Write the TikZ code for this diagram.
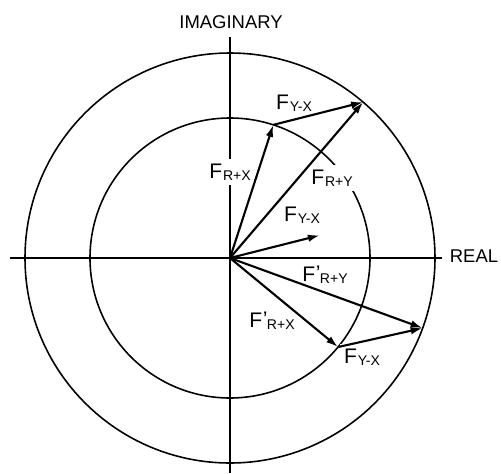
\documentclass[tikz,border=0pt]{standalone}
\usepackage{fontspec}
\setmainfont{Liberation Sans}
\usetikzlibrary{arrows.meta, calc}
\newcommand{\subfont}{\fontsize{8}{8}\selectfont}
\newcommand{\force}[1]{F\kern0.5pt\raisebox{-1pt}{\subfont #1}}
\newcommand{\forcep}[1]{F\kern0.3pt\raisebox{0.5pt}{'}\kern-0.3pt\raisebox{-1pt}{\subfont #1}}

\begin{document}
\begin{tikzpicture}[
  axis/.style={line width=0.9pt},
  ring/.style={line width=0.9pt},
  vec/.style={line width=1.2pt, -{Latex[length=2.4mm, width=1.5mm]}},
  flabel/.style={fill=white, inner sep=2.5pt, font=\fontsize{12}{12}\selectfont},
  axlabel/.style={inner sep=0pt, font=\fontsize{10.5}{10.5}\selectfont},
]
  \useasboundingbox (-4.6,-4.3) rectangle (5.42,5.16);

  \coordinate (O) at (0,0);
  \coordinate (west) at (-4.4,0);
  \coordinate (east) at (4.24,0);
  \coordinate (north) at (0,4.42);
  \coordinate (south) at (0,-4.3);
  \coordinate (A) at (72:2.8);
  \coordinate (B) at (49.5:4.1);
  \coordinate (C) at ($(B)-(A)$);
  \coordinate (D) at (-39.5:2.8);
  \coordinate (E) at (-20:4.1);

  \draw[axis] (west) -- (east);
  \draw[axis] (south) -- (north);
  \draw[ring] (O) circle (4.1);
  \draw[ring] (O) circle (2.8);

  \node[axlabel] (real) at (4.88,0.04) {REAL};
  \node[axlabel] (imag) at (0.02,4.72) {IMAGINARY};

  \node[flabel] (fyx1) at (1.28,3.10) {\force{Y-X}};
  \node[flabel] (frx) at (0,1.72) {\force{R+X}};
  \node[flabel] (fry) at (2.04,1.6) {\force{R+Y}};
  \node[flabel] (fyx2) at (1.44,0.86) {\force{Y-X}};
  \node[flabel] (fpry) at (1.9,-0.34) {\forcep{R+Y}};
  \node[flabel] (fprx) at (0.84,-1.26) {\forcep{R+X}};
  \node[flabel] (fyx3) at (2.64,-1.98) {\force{Y-X}};

  \draw[vec] (O) -- (A);
  \draw[vec] (A) -- (B);
  \draw[vec] (O) -- (B);
  \draw[vec] (O) -- (C);
  \draw[vec] (O) -- (D);
  \draw[vec] (D) -- (E);
  \draw[vec] (O) -- (E);
\end{tikzpicture}
\end{document}
